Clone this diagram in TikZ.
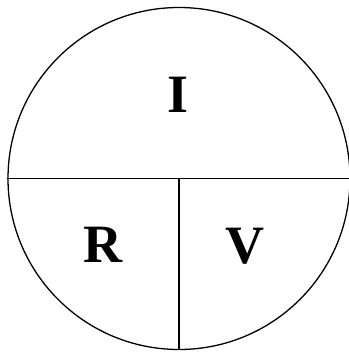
\documentclass[tikz,border=0pt]{standalone}
\usepackage{fontspec}
\setmainfont{Liberation Serif}
\usetikzlibrary{positioning}
\tikzset{
	ohmdisc/.style={draw, circle, line width=1.3pt, minimum size=342pt, inner sep=0pt}
}
\tikzset{
	bigletter/.style={font=\fontsize{54}{60}\selectfont\bfseries}
}

\begin{document}
\begin{tikzpicture}[x=1pt, y=-1pt]

			\useasboundingbox (0,0) rectangle (348,352);

			\node[ohmdisc] (disc) at (179,178.5) {};

			\begin{scope}[line width=1.3pt]
				\draw (disc.west) -- (disc.east);
				\draw (disc.center) -- (disc.south);
			\end{scope}

			\node[bigletter] (lI) at (178,95) {I};
			\node[bigletter] (lR) at (103,244.5) {R};
			\node[bigletter] (lV) at (245,246.5) {V};

		\end{tikzpicture}
\end{document}
